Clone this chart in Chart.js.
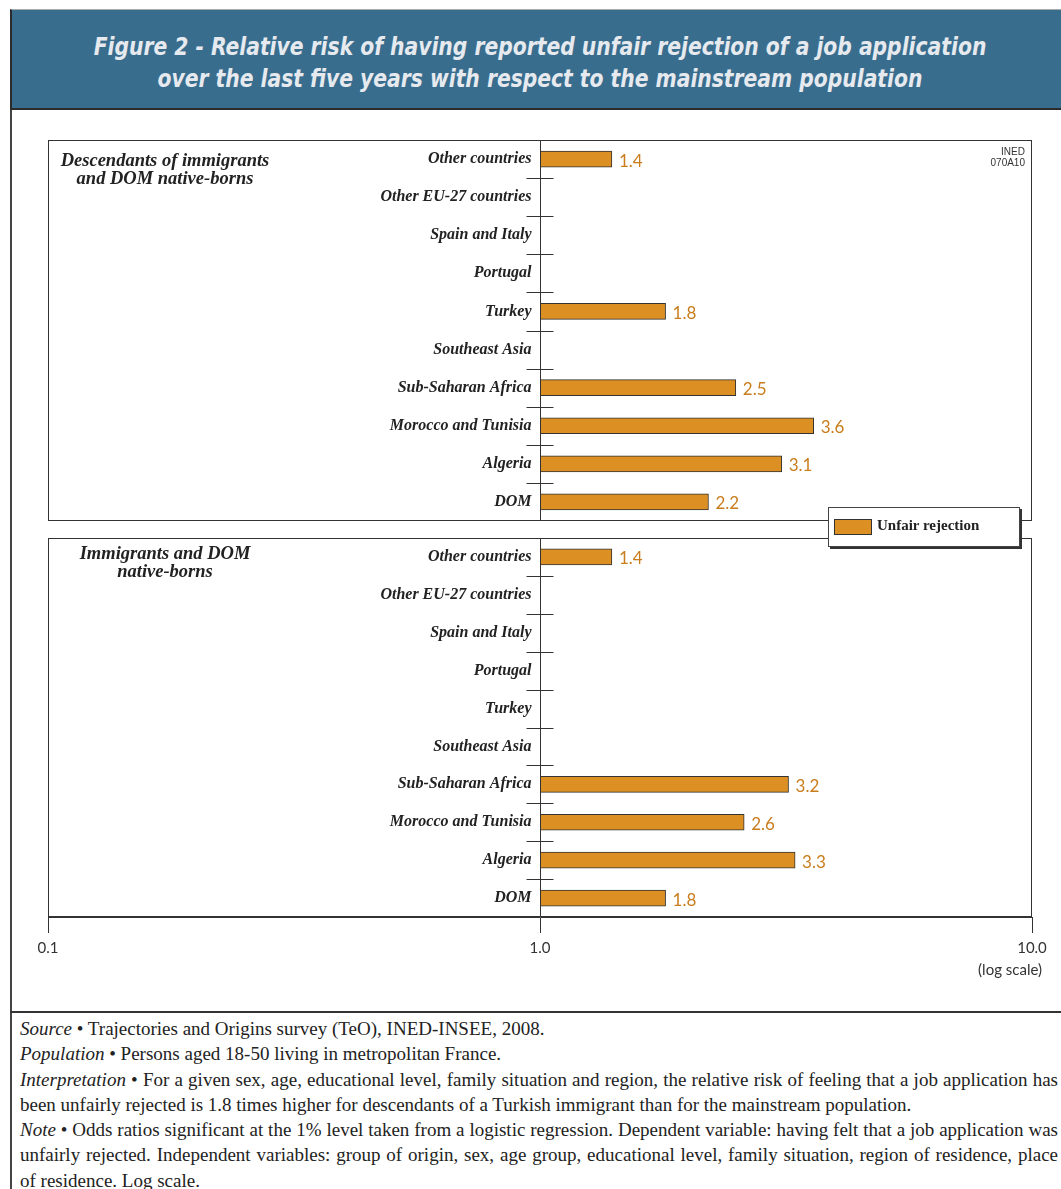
<!DOCTYPE html>
<html>
<head>
<meta charset="utf-8">
<script src="https://cdn.jsdelivr.net/npm/chart.js@4.4.1/dist/chart.umd.min.js"></script>
<style>
  body { margin: 0; background: #fff; }
  #page { position: relative; width: 1061px; height: 1189px; overflow: hidden; }
  #frame { position: absolute; left: 10px; top: 9px; width: 1060px; height: 1200px; border-left: 2px solid #444; }
  #header {
    position: absolute; left: 10px; top: 9px; width: 1060px; height: 98px;
    background: #396d8e; border-top: 1px solid #aaa; border-bottom: 2px solid #2b2b2b; border-left: 2px solid #2b2b2b;
    color: #e6eaee; font-family: "DejaVu Sans Condensed", "DejaVu Sans", sans-serif;
    font-weight: bold; font-style: italic; font-size: 24px; line-height: 32px; text-align: center;
  }
  #header div { position: absolute; left: 0; width: 1056px; transform: scaleX(0.94); }
  canvas { position: absolute; left: 0; }
  .ptitle { position: absolute; font: italic bold 18.5px "Liberation Serif", "Times New Roman", serif; color: #222; text-align: center; line-height: 18px; }
  #ined { position: absolute; right: 36px; top: 146px; font: 10px "Liberation Sans", sans-serif; color: #333; text-align: right; line-height: 11px; }
  #legend {
    position: absolute; left: 828px; top: 507px; width: 190px; height: 38px; background: #fff;
    border: 1px solid #444; box-shadow: 2px 2px 0 #333; font: bold 15px "Liberation Serif", "Times New Roman", serif; color: #222;
  }
  #legend span.sw { position: absolute; left: 5px; top: 11px; width: 36px; height: 14px; background: #dc8f22; border: 1px solid #333; }
  #legend span.tx { position: absolute; left: 48px; top: 9px; }
  #rule { position: absolute; left: 10px; top: 1011px; width: 1060px; border-top: 2px solid #333; }
  #notes {
    position: absolute; left: 20px; top: 1016px; width: 1038px; font: 19px "Liberation Serif", "Times New Roman", serif; color: #222;
    line-height: 25.3px; white-space: nowrap;
  }
  #notes div { text-align: justify; text-align-last: justify; }
  #notes div.end { text-align-last: left; }
</style>
</head>
<body>
<div id="page">
  <div id="frame"></div>
  <div id="header">
    <div style="top:21px">Figure 2 - Relative risk of having reported unfair rejection of a job application</div>
    <div style="top:53px">over the last five years with respect to the mainstream population</div>
  </div>

  <canvas id="top" width="1061" height="381" style="top:140px"></canvas>
  <canvas id="bottom" width="1061" height="440" style="top:538px"></canvas>

  <div class="ptitle" style="left:40px; top:151px; width:250px">Descendants of immigrants<br>and DOM native-borns</div>
  <div class="ptitle" style="left:40px; top:544px; width:250px">Immigrants and DOM<br>native-borns</div>
  <div id="ined">INED<br>070A10</div>
  <div id="legend"><span class="sw"></span><span class="tx" id="legendText"></span></div>

  <div id="rule"></div>
  <div id="notes">
    <div class="end"><i>Source</i> • Trajectories and Origins survey (TeO), INED-INSEE, 2008.</div>
    <div class="end"><i>Population</i> • Persons aged 18-50 living in metropolitan France.</div>
    <div><i>Interpretation</i> • For a given sex, age, educational level, family situation and region, the relative risk of feeling that a job application has</div>
    <div class="end">been unfairly rejected is 1.8 times higher for descendants of a Turkish immigrant than for the mainstream population.</div>
    <div><i>Note</i> • Odds ratios significant at the 1% level taken from a logistic regression. Dependent variable: having felt that a job application was</div>
    <div>unfairly rejected. Independent variables: group of origin, sex, age group, educational level, family situation, region of residence, place</div>
    <div class="end">of residence. Log scale.</div>
  </div>
</div>

<script>
// categories, same order in both panels (top to bottom)
const categories = ['Other countries', 'Other EU-27 countries', 'Spain and Italy', 'Portugal', 'Turkey',
  'Southeast Asia', 'Sub-Saharan Africa', 'Morocco and Tunisia', 'Algeria', 'DOM'];
// odds ratios, null = not significant
const descendants = [1.4, null, null, null, 1.8, null, 2.5, 3.6, 3.1, 2.2];
const immigrants = [1.4, null, null, null, null, null, 3.2, 2.6, 3.3, 1.8];
const xTicks = [0.1, 1, 10];
const seriesName = 'Unfair rejection';

const barColor = '#dc8f22';
const valueColor = '#c97d1c';

document.getElementById('legendText').textContent = seriesName;

// panel frame, axis line at 1.0, category names, little ticks, values
const panelPlugin = {
  id: 'panel',
  afterDatasetsDraw(chart) {
    const { ctx, chartArea: a, scales: { x, y } } = chart;
    const x1 = Math.round(x.getPixelForValue(1)) + 0.5;
    ctx.save();
    ctx.strokeStyle = '#333';
    ctx.lineWidth = 1;
    ctx.strokeRect(Math.round(a.left) + 0.5, Math.round(a.top) + 0.5, Math.round(a.right - a.left) - 1, Math.round(a.bottom - a.top) - 1);
    ctx.beginPath();
    ctx.moveTo(x1, a.top);
    ctx.lineTo(x1, a.bottom);
    for (let i = 0; i < categories.length - 1; i++) {
      const yy = Math.round((y.getPixelForTick(i) + y.getPixelForTick(i + 1)) / 2) + 0.5;
      ctx.moveTo(x1 - 14, yy);
      ctx.lineTo(x1 + 13, yy);
    }
    ctx.stroke();

    ctx.fillStyle = '#222';
    ctx.font = 'italic bold 16px "Liberation Serif", "Times New Roman", serif';
    ctx.textAlign = 'right';
    ctx.textBaseline = 'middle';
    categories.forEach((c, i) => ctx.fillText(c, x1 - 9, y.getPixelForTick(i)));

    const data = chart.data.datasets[0].data;
    ctx.fillStyle = valueColor;
    ctx.font = '17px Lato, sans-serif';
    ctx.textAlign = 'left';
    data.forEach((v, i) => {
      if (v == null) return;
      ctx.fillText(v.toFixed(1), x.getPixelForValue(v) + 7, y.getPixelForTick(i) + 2);
    });
    if (chart.options.plugins.panel && chart.options.plugins.panel.logNote) {
      ctx.fillStyle = '#333';
      ctx.font = '15px Lato, sans-serif';
      ctx.textAlign = 'right';
      ctx.fillText('(log scale)', a.right + 10, a.bottom + 53);
    }
    ctx.restore();
  }
};

function makeChart(id, values, showAxis) {
  return new Chart(document.getElementById(id), {
    type: 'bar',
    data: {
      labels: categories,
      datasets: [{
        label: seriesName,
        data: values,
        base: 1,
        backgroundColor: barColor,
        borderColor: '#333',
        borderWidth: 1,
        barThickness: 16
      }]
    },
    options: {
      indexAxis: 'y',
      responsive: false,
      animation: false,
      layout: { padding: { left: 48, right: 29, top: 0, bottom: 0 } },
      plugins: {
        legend: { display: false },
        tooltip: { enabled: false },
        panel: { logNote: showAxis }
      },
      scales: {
        x: {
          type: 'logarithmic',
          min: 0.1,
          max: 10,
          display: showAxis,
          afterBuildTicks: s => { s.ticks = xTicks.map(v => ({ value: v })); },
          afterFit: s => { if (showAxis) s.height = 61; },
          grid: { drawOnChartArea: false, color: '#333', tickLength: 16 },
          border: { color: '#333' },
          ticks: {
            color: '#333',
            font: { family: 'Lato', size: 15 },
            padding: 6,
            maxRotation: 0,
            callback: v => (v < 1 ? String(v) : Number(v).toFixed(1))
          }
        },
        y: { display: false }
      }
    },
    plugins: [panelPlugin]
  });
}

makeChart('top', descendants, false);
makeChart('bottom', immigrants, true);
</script>
</body>
</html>
